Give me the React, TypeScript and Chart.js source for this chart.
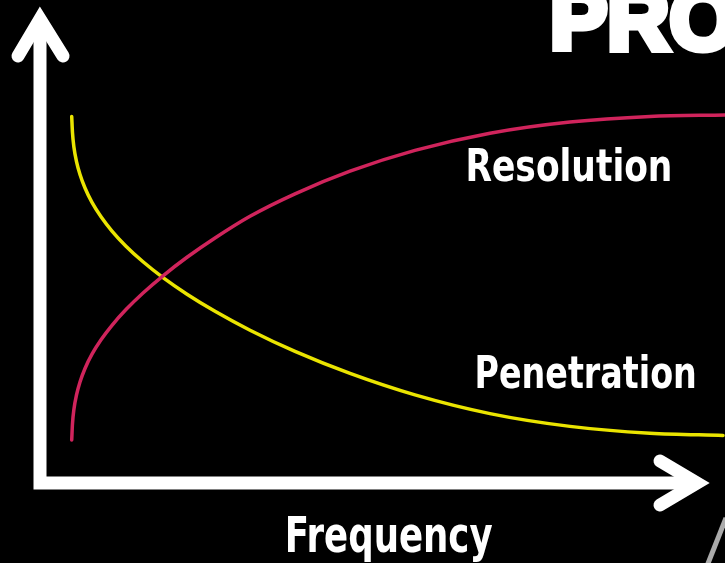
import { useEffect, useRef } from "react";
import { Chart, registerables } from "chart.js";

Chart.register(...registerables);

// Frequency axis (0–100, arbitrary units) and response (0–100)
const resolutionFreq = [4.63, 4.74, 4.96, 5.33, 5.84, 6.57, 7.59, 8.91, 10.51, 12.55, 15.04, 17.96, 21.46, 25.55, 30.66, 37.23, 45.26, 54.74, 65.69, 77.37, 89.05, 100];
const resolutionValue = [9.05, 12.42, 15.58, 18.53, 21.26, 24.11, 27.12, 30.15, 33.2, 36.51, 40.0, 43.62, 47.52, 51.58, 56.15, 60.88, 65.64, 70.02, 73.64, 76.0, 77.18, 77.49];

const penetrationFreq = [4.63, 4.74, 4.96, 5.33, 5.84, 6.57, 7.59, 8.91, 10.51, 12.55, 15.04, 17.96, 21.46, 25.55, 30.66, 37.23, 45.26, 54.74, 65.69, 77.37, 89.05, 99.71];
const penetrationValue = [77.16, 73.79, 70.63, 67.68, 64.95, 62.11, 59.07, 56.04, 53.03, 49.85, 46.57, 43.24, 39.75, 36.15, 32.17, 27.71, 23.07, 18.55, 14.61, 11.92, 10.48, 10.02];

const seriesNames = ["Resolution", "Penetration"];
const axisTitle = "Frequency";
const headerText = "PRO";

const RED = "rgb(208, 36, 92)";
const YELLOW = "rgb(234, 228, 0)";

function fitText(ctx: CanvasRenderingContext2D, text: string, left: number, baseline: number, width: number, font: string) {
  ctx.save();
  ctx.font = font;
  ctx.textAlign = "left";
  ctx.textBaseline = "alphabetic";
  const m = ctx.measureText(text);
  const ink = m.actualBoundingBoxLeft + m.actualBoundingBoxRight;
  const s = width / ink;
  ctx.translate(left, baseline);
  ctx.scale(s, 1);
  ctx.fillStyle = "#ffffff";
  ctx.fillText(text, m.actualBoundingBoxLeft, 0);
  ctx.restore();
}

const decor = {
  id: "decor",
  beforeDraw(chart: any) {
    const ctx = chart.ctx as CanvasRenderingContext2D;
    ctx.save();
    ctx.fillStyle = "#000";
    ctx.fillRect(0, 0, chart.width, chart.height);
    ctx.restore();
  },
  beforeDatasetsDraw(chart: any) {
    const ctx = chart.ctx as CanvasRenderingContext2D;
    const x0 = chart.scales.x.getPixelForValue(0);
    const y0 = chart.scales.y.getPixelForValue(0);
    const w = 13;
    ctx.save();
    ctx.strokeStyle = "#ffffff";
    ctx.lineWidth = w;
    ctx.lineCap = "butt";
    ctx.beginPath();
    ctx.moveTo(x0, y0 + w / 2);
    ctx.lineTo(x0, 19);
    ctx.moveTo(x0 - w / 2, y0);
    ctx.lineTo(697, y0);
    ctx.stroke();
    ctx.lineCap = "round";
    ctx.lineJoin = "miter";
    ctx.miterLimit = 10;
    ctx.beginPath();
    ctx.moveTo(x0 - 22, 56);
    ctx.lineTo(x0, 19);
    ctx.lineTo(x0 + 23, 56);
    ctx.stroke();
    ctx.beginPath();
    ctx.moveTo(660, y0 - 22);
    ctx.lineTo(697, y0);
    ctx.lineTo(660, y0 + 22);
    ctx.stroke();
    ctx.restore();
  },
  afterDraw(chart: any) {
    const ctx = chart.ctx as CanvasRenderingContext2D;
    const fam = '"Liberation Sans Narrow", "DejaVu Sans Condensed", "Liberation Sans", sans-serif';
    fitText(ctx, seriesNames[0], 468, 181, 202, `bold 45px ${fam}`);
    fitText(ctx, seriesNames[1], 477, 388, 218, `bold 44px ${fam}`);
    fitText(ctx, axisTitle, 288, 552, 204, `bold 49px ${fam}`);
    ctx.save();
    ctx.fillStyle = "#ffffff";
    ctx.strokeStyle = "#ffffff";
    ctx.lineWidth = 7;
    ctx.lineJoin = "miter";
    ctx.font = 'bold 86px "Liberation Sans", "DejaVu Sans", sans-serif';
    ctx.textAlign = "left";
    ctx.textBaseline = "alphabetic";
    ctx.fillText(headerText, 550, 49);
    ctx.strokeText(headerText, 550, 49);
    ctx.strokeStyle = "rgba(190,190,190,0.9)";
    ctx.lineWidth = 5;
    ctx.beginPath();
    ctx.moveTo(726, 518);
    ctx.lineTo(707, 566);
    ctx.stroke();
    ctx.restore();
  },
};

export default function App() {
  const ref = useRef<HTMLCanvasElement | null>(null);
  useEffect(() => {
    if (!ref.current) return;
    const chart = new Chart(ref.current, {
      type: "line",
      data: {
        datasets: [
          {
            label: seriesNames[0],
            data: resolutionFreq.map((x, i) => ({ x, y: resolutionValue[i] })),
            borderColor: RED,
            borderWidth: 3.5,
            borderCapStyle: "round",
            pointRadius: 0,
            cubicInterpolationMode: "monotone",
            fill: false,
          },
          {
            label: seriesNames[1],
            data: penetrationFreq.map((x, i) => ({ x, y: penetrationValue[i] })),
            borderColor: YELLOW,
            borderWidth: 3.5,
            borderCapStyle: "round",
            pointRadius: 0,
            cubicInterpolationMode: "monotone",
            fill: false,
          },
        ],
      },
      options: {
        animation: false,
        responsive: false,
        devicePixelRatio: 1,
        layout: { padding: { left: 40, right: 0, top: 8, bottom: 80 } },
        scales: {
          x: { type: "linear", min: 0, max: 100, display: false },
          y: { type: "linear", min: 0, max: 100, display: false },
        },
        plugins: { legend: { display: false }, tooltip: { enabled: false } },
      },
      plugins: [decor],
    } as any);
    return () => chart.destroy();
  }, []);
  return (
    <div style={{ position: "fixed", left: 0, top: 0, width: 725, height: 563, background: "#000" }}>
      <canvas ref={ref} width={725} height={563} style={{ display: "block" }} />
    </div>
  );
}
